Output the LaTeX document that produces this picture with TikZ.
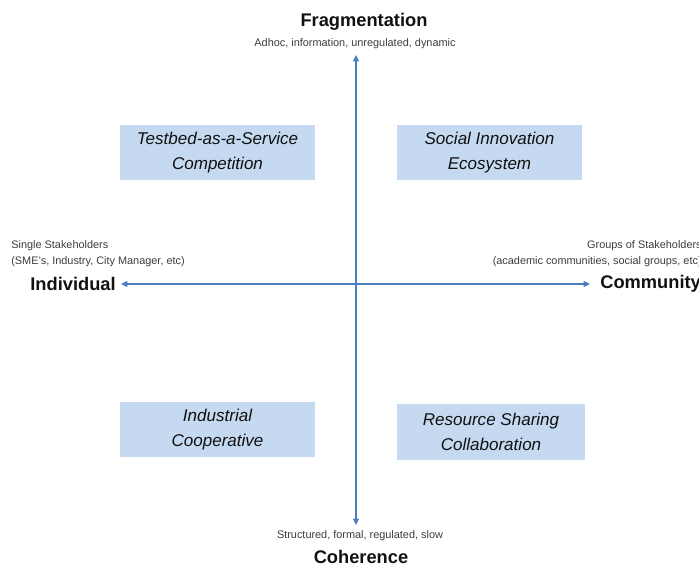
\documentclass[tikz,border=0pt]{standalone}
\usepackage{fontspec}
\setmainfont{Liberation Sans}
\usepackage{xcolor}
\usepackage{tikz}
\usetikzlibrary{arrows.meta}
\definecolor{axisblue}{HTML}{4A7EC0}
\definecolor{boxfill}{HTML}{C5D9F1}
\definecolor{ink}{HTML}{111111}
\definecolor{muted}{HTML}{3C3C3C}
\tikzset{
  axisline/.style={draw=axisblue, line width=0.6pt, {Triangle[length=3.6pt,width=3.4pt]}-{Triangle[length=3.6pt,width=3.4pt]}},
  quadbox/.style={fill=boxfill, draw=none, minimum height=1.1cm, text=ink, align=center,
    font=\fontsize{9.7}{14}\selectfont\itshape, inner sep=0pt},
  pole/.style={text=ink, font=\fontsize{10.4}{12}\selectfont\bfseries, inner sep=0pt},
  hint/.style={text=muted, font=\fontsize{6.2}{9.4}\selectfont, inner sep=0pt},
}

\begin{document}
\begin{tikzpicture}
  \useasboundingbox (0,0) rectangle (13.98,11.3);
  \coordinate (top) at (7.12,10.2);
  \coordinate (bottom) at (7.12,0.8);
  \coordinate (left) at (2.42,5.62);
  \coordinate (right) at (11.8,5.62);

  \draw[axisline] (bottom) -- (top);
  \draw[axisline] (left) -- (right);

  \node[quadbox, minimum width=3.9cm] (testbed) at (4.35,8.25) {Testbed-as-a-Service\\Competition};
  \node[quadbox, minimum width=3.7cm] (social) at (9.79,8.25) {Social Innovation\\Ecosystem};
  \node[quadbox, minimum width=3.9cm] (industrial) at (4.35,2.71) {Industrial\\Cooperative};
  \node[quadbox, minimum width=3.76cm, minimum height=1.12cm] (resource) at (9.82,2.66) {Resource Sharing\\Collaboration};

  \node[pole] (frag) at (7.28,10.86) {Fragmentation};
  \node[hint] (fraghint) at (7.1,10.42) {Adhoc, information, unregulated,\ dynamic};
  \node[pole] (coh) at (7.22,0.16) {Coherence};
  \node[hint] (cohhint) at (7.2,0.58) {Structured, formal, regulated, slow};
  \node[pole, anchor=east] (indiv) at (2.32,5.62) {Individual};
  \node[hint, anchor=west, align=left] (indivhint) at (0.22,6.23) {Single\ Stakeholders\\(SME's, Industry, City Manager, etc)};
  \node[pole, anchor=west] (comm) at (12.0,5.62) {Community};
  \node[hint, anchor=east, align=right] (commhint) at (14.04,6.23) {Groups of Stakeholders\\(academic communities,\ social groups, etc)};
\end{tikzpicture}
\end{document}
